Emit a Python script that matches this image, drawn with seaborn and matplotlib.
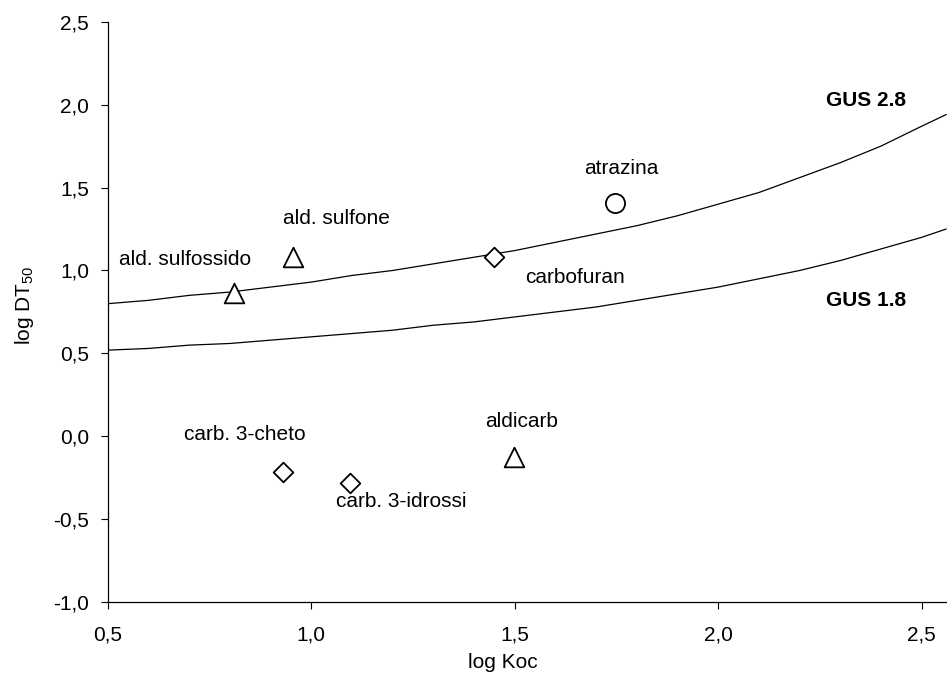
import pandas as pd
import seaborn as sns
import matplotlib.pyplot as plt

# GUS isolines (log Koc vs log DT50)
curve_x = [0.5, 0.6, 0.7, 0.8, 0.9, 1.0, 1.1, 1.2, 1.3, 1.4, 1.5, 1.6, 1.7,
           1.8, 1.9, 2.0, 2.1, 2.2, 2.3, 2.4, 2.5, 2.56]
gus28_y = [0.80, 0.82, 0.85, 0.87, 0.90, 0.93, 0.97, 1.00, 1.04, 1.08, 1.12, 1.17, 1.22,
           1.27, 1.33, 1.40, 1.47, 1.56, 1.65, 1.75, 1.87, 1.94]
gus18_y = [0.52, 0.53, 0.55, 0.56, 0.58, 0.60, 0.62, 0.64, 0.67, 0.69, 0.72, 0.75, 0.78,
           0.82, 0.86, 0.90, 0.95, 1.00, 1.06, 1.13, 1.20, 1.25]

# pesticides
names = ['ald. sulfossido', 'ald. sulfone', 'carbofuran', 'atrazina',
         'carb. 3-cheto', 'carb. 3-idrossi', 'aldicarb']
log_koc = [0.81, 0.955, 1.449, 1.746, 0.931, 1.095, 1.498]
log_dt50 = [0.864, 1.081, 1.081, 1.409, -0.213, -0.278, -0.122]
shape = ['triangle', 'triangle', 'diamond', 'circle', 'diamond', 'diamond', 'triangle']

# label anchor points (baseline, centred)
label_x = [0.689, 1.063, 1.648, 1.762, 0.837, 1.222, 1.516]
label_y = [1.033, 1.278, 0.923, 1.582, -0.022, -0.427, 0.055]

gus_labels = ['GUS 2.8', 'GUS 1.8']
gus_label_x = [2.362, 2.362]
gus_label_y = [1.993, 0.786]

xticks = [0.5, 1.0, 1.5, 2.0, 2.5]
xtick_labels = ['0,5', '1,0', '1,5', '2,0', '2,5']
yticks = [-1.0, -0.5, 0.0, 0.5, 1.0, 1.5, 2.0, 2.5]
ytick_labels = ['-1,0', '-0,5', '0,0', '0,5', '1,0', '1,5', '2,0', '2,5']

sns.set_style('ticks')
plt.rcParams['font.family'] = ['Liberation Sans', 'DejaVu Sans']
plt.rcParams['mathtext.fontset'] = 'custom'
plt.rcParams['mathtext.rm'] = 'Liberation Sans'
plt.rcParams['mathtext.default'] = 'regular'
plt.rcParams['text.color'] = 'black'
plt.rcParams['axes.labelcolor'] = 'black'
plt.rcParams['xtick.color'] = 'black'
plt.rcParams['ytick.color'] = 'black'

df = pd.DataFrame({'name': names, 'x': log_koc, 'y': log_dt50, 'shape': shape})
curves = pd.DataFrame({'x': curve_x, 'g28': gus28_y, 'g18': gus18_y})

fig = plt.figure(figsize=(9.47, 6.81), dpi=100)
ax = fig.add_axes([0.1137, 0.1156, 0.8863, 0.8526])

sns.lineplot(data=curves, x='x', y='g28', color='black', linewidth=0.9, ax=ax)
sns.lineplot(data=curves, x='x', y='g18', color='black', linewidth=0.9, ax=ax)

markers = {'triangle': ('^', 200), 'diamond': ('D', 100), 'circle': ('o', 190)}
for key, (m, s) in markers.items():
    sub = df[df['shape'] == key]
    sns.scatterplot(data=sub, x='x', y='y', marker=m, s=s, facecolor='white',
                    edgecolor='black', linewidth=1.3, ax=ax, zorder=3)

for n, lx, ly in zip(names, label_x, label_y):
    ax.text(lx, ly, n, ha='center', va='baseline', fontsize=15, color='black')
for n, lx, ly in zip(gus_labels, gus_label_x, gus_label_y):
    ax.text(lx, ly, n, ha='center', va='baseline', fontsize=15, fontweight='bold', color='black')

ax.set_xlim(0.5, 2.562)
ax.set_ylim(-1.0, 2.5)
ax.set_xticks(xticks)
ax.set_xticklabels(xtick_labels)
ax.set_yticks(yticks)
ax.set_yticklabels(ytick_labels)
ax.tick_params(axis='both', direction='out', length=5, width=0.8, labelsize=15,
               color='black', labelcolor='black')
ax.tick_params(axis='x', pad=11.5)
ax.tick_params(axis='y', pad=8.5)

ax.set_xlabel('log Koc', fontsize=15, color='black')
ax.set_ylabel('log DT$_{50}$', fontsize=15, color='black')
ax.xaxis.set_label_coords(0.471, -0.087)
ax.yaxis.set_label_coords(-0.0854, 0.511)

sns.despine(ax=ax)
for sp in ['left', 'bottom']:
    ax.spines[sp].set_linewidth(0.9)
    ax.spines[sp].set_color('black')

fig.savefig('out.png', dpi=100)
